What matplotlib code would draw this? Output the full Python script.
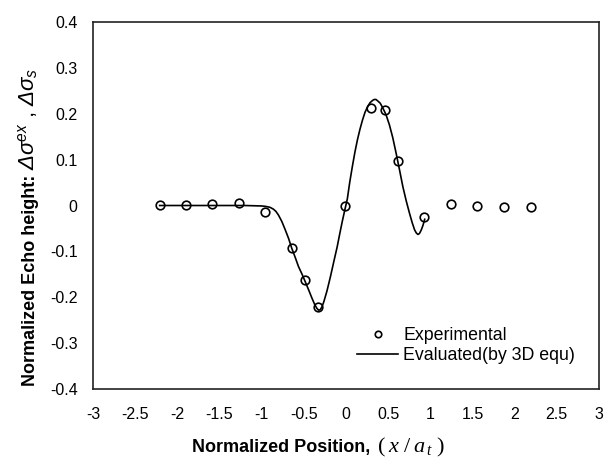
import matplotlib
matplotlib.use("Agg")
import matplotlib.pyplot as plt

plt.rcParams.update({
    "font.family": ["Liberation Sans", "DejaVu Sans"],
    "mathtext.fontset": "custom",
    "mathtext.it": "Liberation Serif:italic",
    "mathtext.rm": "Liberation Serif",
    "mathtext.sf": "Liberation Sans:italic",
})

# experimental points
exp_x = [-2.21, -1.90, -1.59, -1.27, -0.96, -0.64, -0.49, -0.33, -0.01,
         0.30, 0.46, 0.615, 0.926, 1.245, 1.557, 1.877, 2.19]
exp_y = [0.002, 0.002, 0.003, 0.005, -0.015, -0.092, -0.163, -0.222, 0.0,
         0.212, 0.207, 0.098, -0.025, 0.003, -0.002, -0.004, -0.003]

# evaluated curve (3D equation)
ev_x = [-2.21, -1.8, -1.4, -1.2, -1.1, -1.0, -0.95, -0.90, -0.86, -0.83,
        -0.80, -0.76, -0.72, -0.68, -0.643, -0.60, -0.563, -0.52, -0.483,
        -0.44, -0.403, -0.37, -0.345, -0.325, -0.305, -0.285, -0.263, -0.225,
        -0.184, -0.145, -0.104, -0.074, -0.044, -0.014, 0.016, 0.046, 0.076,
        0.106, 0.136, 0.166, 0.196, 0.226, 0.256, 0.286, 0.316, 0.336,
        0.356, 0.376, 0.406, 0.436, 0.475, 0.515, 0.555, 0.595, 0.635,
        0.675, 0.715, 0.754, 0.785, 0.814, 0.835, 0.854, 0.872, 0.894,
        0.914, 0.934]
ev_y = [0.0, 0.0, 0.0, 0.0, -0.0005, -0.001, -0.002, -0.004, -0.008, -0.013,
        -0.021, -0.035, -0.053, -0.072, -0.093, -0.114, -0.133, -0.150, -0.166,
        -0.185, -0.202, -0.216, -0.224, -0.228, -0.227, -0.221, -0.210, -0.186,
        -0.155, -0.123, -0.090, -0.062, -0.035, -0.010, 0.014, 0.052, 0.085,
        0.116, 0.143, 0.166, 0.186, 0.203, 0.215, 0.224, 0.229, 0.231,
        0.231, 0.228, 0.223, 0.213, 0.198, 0.176, 0.148, 0.114, 0.078,
        0.041, 0.010, -0.017, -0.037, -0.053, -0.060, -0.063, -0.061, -0.053,
        -0.043, -0.030]

xticks = [-3, -2.5, -2, -1.5, -1, -0.5, 0, 0.5, 1, 1.5, 2, 2.5, 3]
yticks = [-0.4, -0.3, -0.2, -0.1, 0, 0.1, 0.2, 0.3, 0.4]

fig = plt.figure(figsize=(6.08, 4.66), dpi=100)
ax = fig.add_axes([0.153, 0.165, 0.832, 0.788])

ax.plot(exp_x, exp_y, "o", ms=6.2, mfc="none", mec="black", mew=1.2,
        label="Experimental", zorder=3)
ax.plot(ev_x, ev_y, "-", color="black", lw=1.2,
        label="Evaluated(by 3D equ)", zorder=2)

ax.set_xlim(-3, 3)
ax.set_ylim(-0.4, 0.4)
ax.set_xticks(xticks)
ax.set_xticklabels([f"{t:g}" for t in xticks])
ax.set_yticks(yticks)
ax.set_yticklabels([f"{t:g}" for t in yticks])
ax.tick_params(length=0, labelsize=11.5, pad=11)
ax.tick_params(axis="x", pad=13)
for s in ax.spines.values():
    s.set_linewidth(1.2)
    s.set_color("#222222")

# axis titles: bold words + larger italic symbols, joined at one anchor point
fig.text(0.617, 0.030, "Normalized Position, ", fontsize=13, fontweight="bold",
         ha="right", va="baseline")
fig.text(0.620, 0.030, r"$(\;x\;/\;a_{\,t}\;)$", fontsize=16,
         ha="left", va="baseline")

fig.text(0.057, 0.636, "Normalized Echo height: ", fontsize=13, fontweight="bold",
         rotation=90, rotation_mode="anchor", ha="right", va="baseline")
fig.text(0.057, 0.636,
         r"$\mathsf{\Delta\sigma}^{\mathsf{ex}}$ , $\mathsf{\Delta\sigma}_{\mathsf{s}}$",
         fontsize=16, rotation=90, rotation_mode="anchor", ha="left", va="baseline")

ax.legend(loc="lower right", frameon=False, fontsize=12.8, markerscale=0.75,
          handlelength=2.3, handletextpad=0.3, labelspacing=0.15,
          bbox_to_anchor=(0.985, 0.025))

fig.savefig("out.png", dpi=100)
